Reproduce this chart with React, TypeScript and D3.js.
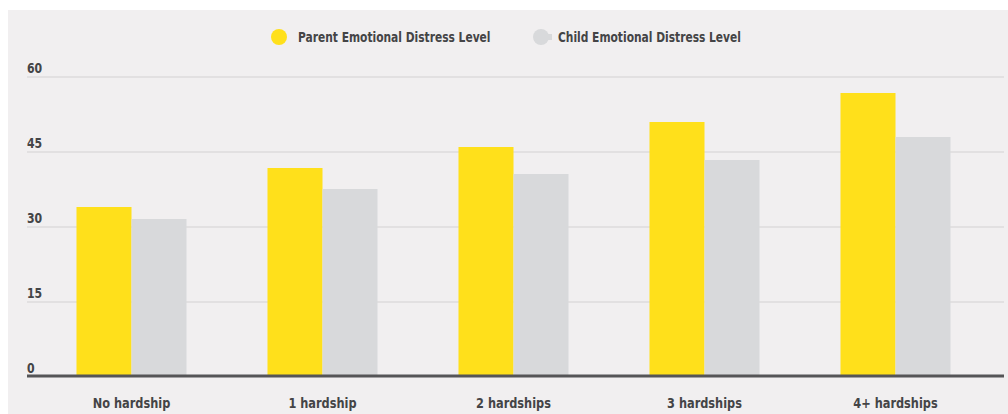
import React from "react";
import * as d3 from "d3";

const categories = ["No hardship", "1 hardship", "2 hardships", "3 hardships", "4+ hardships"];
const parentValues = [34, 41.8, 46, 51, 56.8];
const childValues = [31.6, 37.6, 40.6, 43.4, 48];
const seriesNames = ["Parent Emotional Distress Level", "Child Emotional Distress Level"];
const tickValues = [0, 15, 30, 45, 60];

const W = 1008;
const H = 414;
const FONT = "'DejaVu Sans Condensed', 'DejaVu Sans', sans-serif";
const YELLOW = "#FFE01B";
const GREY = "#D8D9DB";
const TEXT = "#444446";

function T({ x, y, sx, size, anchor, children }: { x: number; y: number; sx: number; size: number; anchor?: string; children: React.ReactNode }) {
  return (
    <g transform={`translate(${x},${y}) scale(${sx},1)`}>
      <text x={0} y={0} textAnchor={anchor || "start"} fontFamily={FONT} fontWeight="bold" fontSize={size} fill={TEXT}>
        {children}
      </text>
    </g>
  );
}

export default function App() {
  const y = d3.scaleLinear().domain([0, 60]).range([377, 77]);
  const x = d3.scaleBand<string>().domain(categories).range([36, 991]).paddingInner(0.424).paddingOuter(0.212);
  const sub = d3.scaleBand<string>().domain(["p", "c"]).range([0, x.bandwidth()]);
  const gridX0 = 27;
  const gridX1 = 1004;

  return (
    <svg width={W} height={H} style={{ position: "absolute", left: 0, top: 0 }} xmlns="http://www.w3.org/2000/svg">
      <rect x={0} y={0} width={W} height={H} fill="#ffffff" />
      <rect x={8} y={10} width={W - 8} height={H - 10} fill="#F1EFF0" />
      {tickValues.map((t) => (
        <g key={t}>
          {t !== 0 && (
            <line x1={gridX0} x2={gridX1} y1={y(t)} y2={y(t)} stroke="#DCDBDC" strokeWidth={1.5} />
          )}
          <T x={gridX0} y={y(t) - 4} sx={0.9} size={13.5}>
            {t}
          </T>
        </g>
      ))}
      {categories.map((c, i) => (
        <g key={c}>
          <rect x={(x(c) as number) + (sub("p") as number)} y={y(parentValues[i])} width={sub.bandwidth()} height={y(0) - y(parentValues[i])} fill={YELLOW} />
          <rect x={(x(c) as number) + (sub("c") as number)} y={y(childValues[i])} width={sub.bandwidth()} height={y(0) - y(childValues[i])} fill={GREY} />
          <T x={(x(c) as number) + x.bandwidth() / 2} y={408} sx={0.87} size={14.5} anchor="middle">
            {c}
          </T>
        </g>
      ))}
      <line x1={gridX0} x2={gridX1} y1={y(0) - 1} y2={y(0) - 1} stroke="#555557" strokeWidth={3} />
      <g>
        <circle cx={279} cy={37} r={8} fill={YELLOW} />
        <T x={298} y={42} sx={0.88} size={13.5}>
          {seriesNames[0]}
        </T>
        <rect x={541} y={34} width={11} height={6} fill={GREY} />
        <circle cx={541} cy={37} r={8} fill={GREY} />
        <T x={558} y={42} sx={0.88} size={13.5}>
          {seriesNames[1]}
        </T>
      </g>
    </svg>
  );
}
